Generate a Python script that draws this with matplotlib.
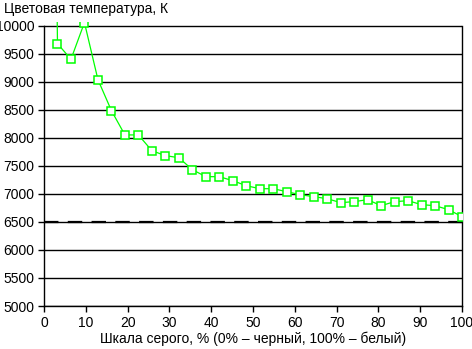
import matplotlib
matplotlib.use("Agg")
import matplotlib.pyplot as plt
import numpy as np

plt.rcParams['font.family'] = ['Liberation Sans', 'DejaVu Sans']

# gray level, % (32 steps)
gray_pct = [i * 100 / 31 for i in range(32)]
color_temp = [30000, 9684, 9405, 10060, 9041, 8488, 8054, 8054, 7773, 7684,
              7648, 7434, 7309, 7309, 7237, 7148, 7094, 7094, 7041, 6987,
              6952, 6916, 6845, 6863, 6898, 6791, 6863, 6880, 6809, 6791,
              6720, 6595]
reference_temp = 6500
y_ticks = [5000, 5500, 6000, 6500, 7000, 7500, 8000, 8500, 9000, 9500, 10000]
x_ticks = [0, 10, 20, 30, 40, 50, 60, 70, 80, 90, 100]

fig = plt.figure(figsize=(4.72, 3.49), dpi=100)
ax = fig.add_axes([44 / 472, 1 - 306 / 349, 418 / 472, 284 / 349])

ax.set_xlim(0, 100)
ax.set_ylim(5000, 10070)

for v in y_ticks:
    ax.axhline(v, color='black', lw=1.0, zorder=1)

ax.plot([0, 100], [reference_temp, reference_temp], color='black', lw=1.6,
        dashes=(6.5, 4.2), zorder=2)

ax.plot(gray_pct, color_temp, color='#00ff00', lw=0.9, marker='s',
        markersize=6, markerfacecolor='white', markeredgecolor='#00ff00',
        markeredgewidth=1.1, zorder=3)

ax.spines['top'].set_visible(False)
ax.spines['left'].set_bounds(5000, 10000)
ax.spines['right'].set_bounds(5000, 10000)
for s in ['left', 'right', 'bottom']:
    ax.spines[s].set_linewidth(1.0)

ax.set_yticks(y_ticks)
ax.set_xticks(x_ticks)
ax.tick_params(axis='both', direction='out', length=4, width=1.0,
               labelsize=10, pad=3)

fig.text(4 / 472, 1 - 9 / 349, 'Цветовая температура, К', fontsize=10,
         ha='left', va='center')
fig.text(253 / 472, 1 - 339 / 349,
         'Шкала серого, % (0% – черный, 100% – белый)', fontsize=10,
         ha='center', va='center')

fig.savefig('out.png', dpi=100)
